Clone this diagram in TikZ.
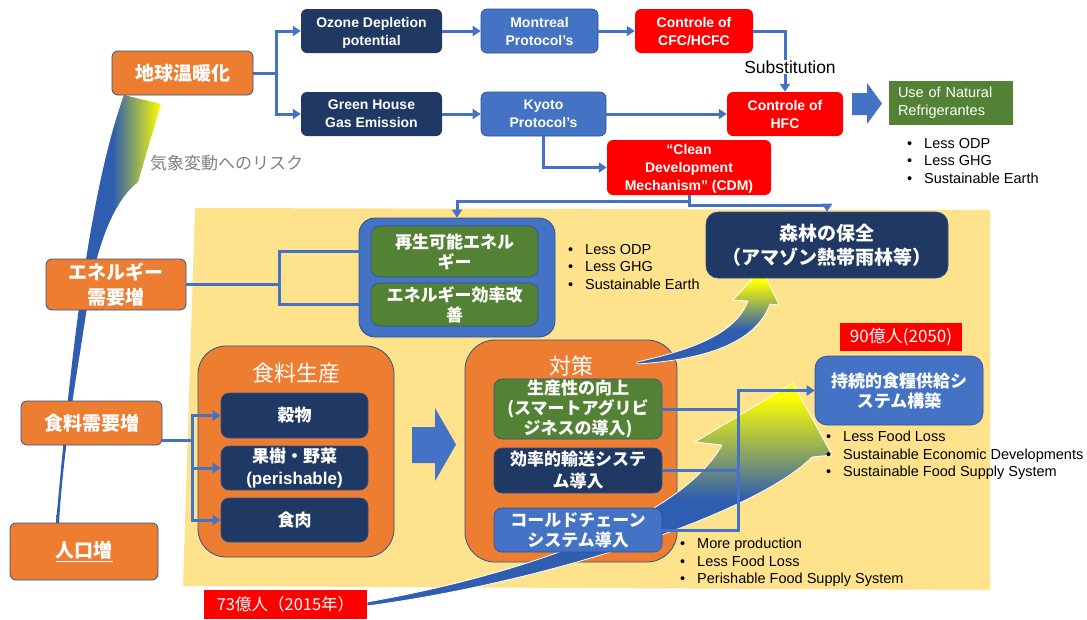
\documentclass[tikz,border=0pt]{standalone}
\usepackage{fontspec}
\setmainfont{Liberation Sans}
\newfontfamily\jp{Noto Sans CJK JP}
\usetikzlibrary{arrows.meta}
\definecolor{orng}{HTML}{ED7D31}
\definecolor{navy}{HTML}{203864}
\definecolor{mblue}{HTML}{4472C4}
\definecolor{grn}{HTML}{548235}
\definecolor{bord}{HTML}{2F528F}
\definecolor{bgy}{HTML}{FFE38C}
\definecolor{ablue}{HTML}{2F5DB0}
\definecolor{gtxt}{HTML}{808080}
\pgfdeclarehorizontalshading{lshade}{100bp}{color(0bp)=(ablue); color(25bp)=(ablue); color(52bp)=(ablue); color(75bp)=(yellow); color(100bp)=(yellow)}
\pgfdeclareverticalshading{fshade}{100bp}{color(0bp)=(ablue); color(43bp)=(ablue); color(68bp)=(yellow); color(100bp)=(yellow)}
\pgfdeclareverticalshading{bshade}{100bp}{color(0bp)=(ablue); color(49bp)=(ablue); color(72bp)=(yellow); color(100bp)=(yellow)}
\newcommand{\fs}[2]{\fontsize{#1}{#2}\selectfont}
\newcommand{\bl}[1]{\makebox[17pt][l]{\textbullet}#1}
\begin{document}
\begin{tikzpicture}[x=1pt,y=-1pt,
 bx/.style={rounded corners=6pt, inner sep=0pt, align=center, text=white},
 en/.style={font=\bfseries\fs{14}{18}, text depth=0pt},
 ja/.style={font=\jp\bfseries\fs{17}{20}},
 lbox/.style={bx, fill=orng, draw=bord, line width=0.8pt, font=\jp\bfseries\fs{19}{25}},
 conn/.style={draw=mblue, line width=3pt, -{Triangle[length=8pt,width=10pt]}},
 cline/.style={draw=mblue, line width=3pt},
 bul/.style={anchor=north west, inner sep=0pt, align=left, font=\fs{14.5}{17.7}},
]
\fill[white] (0,0) rectangle (1087,619);
\useasboundingbox (0,0) rectangle (1087,619);
% yellow background
\fill[bgy] (195,208) -- (990,210) -- (990,590) -- (183,586) -- cycle;
% left rising arrow
\shade[shading=lshade] (56,523) .. controls (68,390) and (86,200) .. (124,95) -- (161,104) -- (138,182) .. controls (115,200) and (98,240) .. (88,300) .. controls (78,370) and (64,440) .. (59,523) -- cycle;
\node[font=\jp\fs{17}{20}, text=gtxt, anchor=west, inner sep=0pt] (risk) at (150,163) {気象変動へのリスク};

% containers
\node[fill=mblue, draw=bord, line width=0.8pt, rounded corners=16pt, minimum width=196pt, minimum height=119pt, inner sep=0pt] (rcont) at (457,277.5) {};
\node[fill=orng, draw=bord, line width=0.8pt, rounded corners=28pt, minimum width=196pt, minimum height=211pt, inner sep=0pt] (fprod) at (296,451.5) {};
\node[text=white, font=\jp\fs{22}{24}, inner sep=0pt] (fprodt) at (296,373) {食料生産};
\node[fill=orng, draw=bord, line width=0.8pt, rounded corners=30pt, minimum width=212pt, minimum height=222pt, inner sep=0pt] (meas) at (571,451) {};
\node[text=white, font=\jp\fs{22}{24}, inner sep=0pt] (meast) at (571,366) {対策};

% gradient arrows
\shadedraw[shading=fshade, draw=white, line width=0.8pt] (637,362) .. controls (690,350) and (735,335) .. (748,301) -- (733,300) -- (762,268) -- (779,305) -- (770,304) .. controls (755,345) and (700,360) .. (637,364) -- cycle;
\shadedraw[shading=bshade, draw=white, line width=0.8pt] (367,602) .. controls (520,575) and (680,520) .. (722,445) -- (695,442) -- (793,383) -- (832,455) -- (812,457) .. controls (760,510) and (560,580) .. (367,606) -- cycle;

% top row
\node[lbox, minimum width=141pt, minimum height=44pt] (warm) at (182.5,73) {地球温暖化};
\node[bx, en, fill=navy, minimum width=141pt, minimum height=44pt] (ozone) at (371.5,31) {Ozone Depletion\\potential};
\node[bx, en, fill=navy, minimum width=141pt, minimum height=44pt] (ghg) at (371.5,114) {Green House\\Gas Emission};
\node[bx, en, fill=mblue, draw=bord, line width=0.6pt, minimum width=117pt, minimum height=44pt] (mont) at (539.5,31) {Montreal\\Protocol’s};
\node[bx, en, fill=mblue, draw=bord, line width=0.6pt, minimum width=125pt, minimum height=44pt] (kyoto) at (543.5,114) {Kyoto\\Protocol’s};
\node[bx, en, fill=red, minimum width=118pt, minimum height=44pt] (cfc) at (694,31) {Controle of\\CFC/HCFC};
\node[bx, en, fill=red, minimum width=116pt, minimum height=44pt] (hfc) at (785,114) {Controle of\\HFC};
\node[bx, en, fill=red, minimum width=164pt, minimum height=55pt] (cdm) at (689,167.5) {“Clean\\Development\\Mechanism” (CDM)};
\node[inner sep=0pt, fill=grn, minimum width=124pt, minimum height=44pt, text width=106pt, align=left, text=white, font=\fs{14.5}{18}] (nat) at (951,103) {Use of Natural\\Refrigerantes};
\fill[mblue] (852,93) -- (867,93) -- (867,83) -- (882,103.5) -- (867,124) -- (867,115) -- (852,115) -- cycle;

% left column
\node[lbox, minimum width=140pt, minimum height=51pt] (energy) at (116,284.5) {エネルギー\\需要増};
\node[lbox, minimum width=141pt, minimum height=44pt] (food) at (91.5,423) {食料需要増};
\node[lbox, minimum width=148pt, minimum height=57pt] (pop) at (84,551.5) {\underline{人口増}};

% energy boxes
\node[bx, ja, fill=grn, draw=bord, line width=0.6pt, rounded corners=9pt, minimum width=167pt, minimum height=51pt] (renew) at (454.5,251.5) {再生可能エネル\\ギー};
\node[bx, ja, fill=grn, draw=bord, line width=0.6pt, rounded corners=9pt, minimum width=167pt, minimum height=43pt] (effic) at (454.5,304.5) {エネルギー効率改\\善};
\node[bx, fill=navy, draw=bord, line width=0.6pt, rounded corners=12pt, minimum width=242pt, minimum height=66pt, font=\jp\bfseries\fs{19}{24}] (forest) at (827,245) {森林の保全\\（アマゾン熱帯雨林等）};

% food boxes
\node[bx, ja, fill=navy, draw=bord, line width=0.6pt, rounded corners=8pt, minimum width=147pt, minimum height=45pt] (grain) at (294.5,415.5) {穀物};
\node[bx, ja, fill=navy, draw=bord, line width=0.6pt, rounded corners=8pt, minimum width=147pt, minimum height=44pt, font=\jp\bfseries\fs{17}{21.5}] (fruit) at (294.5,468) {果樹・野菜\\\rmfamily(perishable)};
\node[bx, ja, fill=navy, draw=bord, line width=0.6pt, rounded corners=8pt, minimum width=147pt, minimum height=44pt] (meat) at (294.5,520) {食肉};
\fill[mblue] (412,427) -- (435,427) -- (435,408) -- (456,444.5) -- (435,481) -- (435,463) -- (412,463) -- cycle;

% measures boxes
\node[bx, ja, fill=grn, draw=bord, line width=0.6pt, rounded corners=8pt, minimum width=168pt, minimum height=60pt] (prod) at (578,409) {生産性の向上\\(スマートアグリビ\\ジネスの導入)};
\node[bx, ja, fill=navy, draw=bord, line width=0.6pt, rounded corners=8pt, minimum width=168pt, minimum height=45pt, font=\jp\bfseries\fs{17}{22}] (trans) at (578,470.5) {効率的輸送システ\\ム導入};
\node[bx, ja, fill=mblue, draw=bord, line width=0.6pt, rounded corners=8pt, minimum width=168pt, minimum height=44pt] (cold) at (578,530) {コールドチェーン\\システム導入};

% right
\node[fill=red, inner sep=0pt, minimum width=122pt, minimum height=28pt, text=white, font=\jp\fs{17}{20}] (p90) at (901,337) {90億人(2050)};
\node[bx, ja, fill=mblue, draw=bord, line width=0.6pt, rounded corners=12pt, minimum width=168pt, minimum height=69pt] (sustain) at (899,390.5) {持続的食糧供給シ\\ステム構築};
\node[fill=red, inner sep=0pt, minimum width=163pt, minimum height=29pt, text=white, font=\jp\fs{16.5}{20}] (p73) at (285.5,604.5) {73億人（2015年）};

% connectors top
\draw[conn] (warm.east) -- ++(23,0) |- (ozone.west);
\draw[conn] (warm.east) -- ++(23,0) |- (ghg.west);
\draw[conn] (ozone.east) -- (mont.west);
\draw[conn] (mont.east) -- (cfc.west);
\draw[conn] (ghg.east) -- (kyoto.west);
\draw[conn] (kyoto.east) -- (hfc.west);
\draw[conn] (cfc.east) -| (hfc.north);
\draw[conn] (kyoto.south) |- (cdm.west);
\node[fill=white, inner sep=0.5pt, font=\fs{17.5}{20}] (subst) at (790,67) {Substitution};
\draw[conn] (cdm.south) -- ++(0,6) -| (rcont.north);
\draw[conn] (cdm.south) -- ++(0,10) -| (forest.north);

% connectors lower
\draw[cline] (energy.east) -- ++(93,0) |- (rcont.west |- renew.west);
\draw[cline] (energy.east) -- ++(93,0) |- (rcont.west |- effic.west);
\draw[conn] (food.east) ++(0,17) -- ++(30,0) |- (grain.west);
\draw[conn] (food.east) ++(0,17) -- ++(30,0) |- (fruit.west);
\draw[conn] (food.east) ++(0,17) -- ++(30,0) |- (meat.west);
\draw[cline] (prod.east) -- ++(76,0);
\draw[cline] (trans.east) -- ++(76,0);
\draw[conn] (cold.east) -- ++(76,0) |- (sustain.west);

% bullets
\node[bul] (nb) at (907,137.7) {\bl{Less ODP}\\\bl{Less GHG}\\\bl{Sustainable Earth}};
\node[bul] (rb) at (568,243.7) {\bl{Less ODP}\\\bl{Less GHG}\\\bl{Sustainable Earth}};
\node[bul] (mb) at (680,537.7) {\bl{More production}\\\bl{Less Food Loss}\\\bl{Perishable Food Supply System}};
\node[bul] (sb) at (826,430.7) {\bl{Less Food Loss}\\\bl{Sustainable Economic Developments}\\\bl{Sustainable Food Supply System}};
\end{tikzpicture}
\end{document}
